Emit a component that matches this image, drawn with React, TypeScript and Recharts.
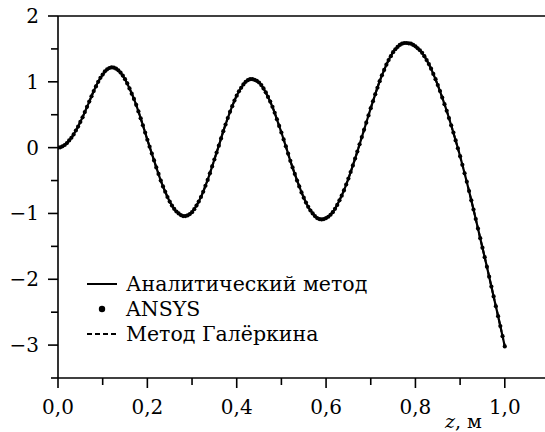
import React from 'react';
import { LineChart, Line, XAxis, YAxis, ReferenceLine } from 'recharts';

// Analytic / Galerkin sampling grid along the beam, m
const zGrid = [
  0.00, 0.01, 0.02, 0.03, 0.04, 0.05, 0.06, 0.07, 0.08, 0.09,
  0.10, 0.11, 0.12, 0.13, 0.14, 0.15, 0.16, 0.17, 0.18, 0.19,
  0.20, 0.21, 0.22, 0.23, 0.24, 0.25, 0.26, 0.27, 0.28, 0.29,
  0.30, 0.31, 0.32, 0.33, 0.34, 0.35, 0.36, 0.37, 0.38, 0.39,
  0.40, 0.41, 0.42, 0.43, 0.44, 0.45, 0.46, 0.47, 0.48, 0.49,
  0.50, 0.51, 0.52, 0.53, 0.54, 0.55, 0.56, 0.57, 0.58, 0.59,
  0.60, 0.61, 0.62, 0.63, 0.64, 0.65, 0.66, 0.67, 0.68, 0.69,
  0.70, 0.71, 0.72, 0.73, 0.74, 0.75, 0.76, 0.77, 0.78, 0.79,
  0.80, 0.81, 0.82, 0.83, 0.84, 0.85, 0.86, 0.87, 0.88, 0.89,
  0.90, 0.91, 0.92, 0.93, 0.94, 0.95, 0.96, 0.97, 0.98, 0.99,
  1.00,
];

// Аналитический метод
const analytic = [
  0.00, 0.02, 0.07, 0.15, 0.26, 0.39, 0.54, 0.70, 0.86, 1.00,
  1.11, 1.19, 1.22, 1.20, 1.14, 1.04, 0.90, 0.74, 0.55, 0.34,
  0.12, -0.09, -0.30, -0.50, -0.67, -0.82, -0.93, -1.00, -1.04, -1.03,
  -0.98, -0.88, -0.75, -0.58, -0.39, -0.18, 0.03, 0.25, 0.45, 0.63,
  0.79, 0.91, 1.00, 1.04, 1.03, 0.99, 0.90, 0.77, 0.62, 0.43,
  0.23, 0.02, -0.20, -0.40, -0.59, -0.76, -0.90, -1.00, -1.07, -1.09,
  -1.07, -1.02, -0.93, -0.80, -0.65, -0.47, -0.27, -0.06, 0.16, 0.38,
  0.60, 0.81, 1.01, 1.18, 1.33, 1.45, 1.53, 1.58, 1.59, 1.58,
  1.54, 1.48, 1.39, 1.27, 1.12, 0.95, 0.76, 0.56, 0.34, 0.11,
  -0.13, -0.39, -0.66, -0.94, -1.23, -1.52, -1.81, -2.11, -2.41, -2.71,
  -3.02,
];

// Метод Галёркина (coincides with the analytic curve at this scale)
const galerkin = [
  0.00, 0.02, 0.07, 0.15, 0.26, 0.39, 0.54, 0.70, 0.86, 1.00,
  1.11, 1.19, 1.22, 1.20, 1.14, 1.04, 0.90, 0.74, 0.55, 0.34,
  0.12, -0.09, -0.30, -0.50, -0.67, -0.82, -0.93, -1.00, -1.04, -1.03,
  -0.98, -0.88, -0.75, -0.58, -0.39, -0.18, 0.03, 0.25, 0.45, 0.63,
  0.79, 0.91, 1.00, 1.04, 1.03, 0.99, 0.90, 0.77, 0.62, 0.43,
  0.23, 0.02, -0.20, -0.40, -0.59, -0.76, -0.90, -1.00, -1.07, -1.09,
  -1.07, -1.02, -0.93, -0.80, -0.65, -0.47, -0.27, -0.06, 0.16, 0.38,
  0.60, 0.81, 1.01, 1.18, 1.33, 1.45, 1.53, 1.58, 1.59, 1.58,
  1.54, 1.48, 1.39, 1.27, 1.12, 0.95, 0.76, 0.56, 0.34, 0.11,
  -0.13, -0.39, -0.66, -0.94, -1.23, -1.52, -1.81, -2.11, -2.41, -2.71,
  -3.02,
];

// ANSYS nodal values, one node every 0.005 m
const ansys = [
  0.00, 0.005, 0.02, 0.04, 0.07, 0.11, 0.15, 0.20, 0.26, 0.32,
  0.39, 0.46, 0.54, 0.62, 0.70, 0.78, 0.86, 0.93, 1.00, 1.06,
  1.11, 1.16, 1.19, 1.21, 1.22, 1.215, 1.20, 1.175, 1.14, 1.095,
  1.04, 0.975, 0.90, 0.82, 0.74, 0.65, 0.55, 0.445, 0.34, 0.23,
  0.12, 0.015, -0.09, -0.195, -0.30, -0.40, -0.50, -0.59, -0.67, -0.75,
  -0.82, -0.88, -0.93, -0.97, -1.00, -1.025, -1.04, -1.04, -1.03, -1.01,
  -0.98, -0.935, -0.88, -0.82, -0.75, -0.67, -0.58, -0.49, -0.39, -0.285,
  -0.18, -0.075, 0.03, 0.14, 0.25, 0.35, 0.45, 0.545, 0.63, 0.715,
  0.79, 0.855, 0.91, 0.96, 1.00, 1.025, 1.04, 1.04, 1.03, 1.015,
  0.99, 0.95, 0.90, 0.84, 0.77, 0.70, 0.62, 0.53, 0.43, 0.33,
  0.23, 0.125, 0.02, -0.09, -0.20, -0.30, -0.40, -0.50, -0.59, -0.68,
  -0.76, -0.835, -0.90, -0.955, -1.00, -1.04, -1.07, -1.085, -1.09, -1.085,
  -1.07, -1.05, -1.02, -0.98, -0.93, -0.87, -0.80, -0.73, -0.65, -0.56,
  -0.47, -0.37, -0.27, -0.165, -0.06, 0.05, 0.16, 0.27, 0.38, 0.49,
  0.60, 0.705, 0.81, 0.91, 1.01, 1.10, 1.18, 1.26, 1.33, 1.39,
  1.45, 1.495, 1.53, 1.56, 1.58, 1.59, 1.59, 1.585, 1.58, 1.56,
  1.54, 1.51, 1.48, 1.44, 1.39, 1.33, 1.27, 1.20, 1.12, 1.04,
  0.95, 0.86, 0.76, 0.66, 0.56, 0.45, 0.34, 0.23, 0.11, -0.01,
  -0.13, -0.26, -0.39, -0.52, -0.66, -0.80, -0.94, -1.085, -1.23, -1.375,
  -1.52, -1.665, -1.81, -1.96, -2.11, -2.26, -2.41, -2.56, -2.71, -2.865,
  -3.02,
];

const xTicks = [0, 0.1, 0.2, 0.3, 0.4, 0.5, 0.6, 0.7, 0.8, 0.9, 1.0];
const yTicks = [-3.5, -3, -2.5, -2, -1.5, -1, -0.5, 0, 0.5, 1, 1.5, 2];

const serif = { fontFamily: "'DejaVu Serif', serif" };

const lineData = zGrid.map((z, i) => ({ z, analytic: analytic[i], galerkin: galerkin[i] }));
const ansysData = ansys.map((v, i) => ({ z: i * 0.005, ansys: v }));

const XTick = ({ x, y, payload }: any) => {
  const v = payload.value;
  const major = Math.round(v * 10) % 2 === 0;
  return (
    <g>
      <line x1={x} x2={x} y1={y} y2={y + (major ? 10 : 7)} stroke="#000" strokeWidth={1.6} />
      {major && (
        <text x={x} y={y + 36} textAnchor="middle" style={serif} fontSize={20} fill="#000">
          {v.toFixed(1).replace('.', ',')}
        </text>
      )}
    </g>
  );
};

const YTick = ({ x, y, payload }: any) => {
  const v = payload.value;
  const major = Number.isInteger(v);
  return (
    <g>
      <line x1={x - (major ? 10 : 7)} x2={x} y1={y} y2={y} stroke="#000" strokeWidth={1.6} />
      {major && (
        <text x={x - 19} y={y + 7} textAnchor="end" style={serif} fontSize={20} fill="#000">
          {v < 0 ? '\u2212' + Math.abs(v) : String(v)}
        </text>
      )}
    </g>
  );
};

const AxisTitle = () => (
  <text x={445} y={428} style={serif} fontSize={19} fill="#000">
    <tspan fontStyle="italic">z</tspan>, м
  </text>
);

const LegendBox = () => (
  <svg width={300} height={80} style={{ position: 'absolute', left: 83, top: 269 }}>
    <line x1={4} x2={34} y1={15} y2={15} stroke="#000" strokeWidth={2} />
    <circle cx={19} cy={40} r={3.2} fill="#000" />
    <line x1={4} x2={34} y1={65} y2={65} stroke="#000" strokeWidth={2} strokeDasharray="5 3" />
    <text x={43} y={22} style={serif} fontSize={20.5} fill="#000">Аналитический метод</text>
    <text x={43} y={47} style={serif} fontSize={20.5} fill="#000">ANSYS</text>
    <text x={43} y={72} style={serif} fontSize={20.5} fill="#000">Метод Галёркина</text>
  </svg>
);

export default function App() {
  return (
    <div style={{ position: 'absolute', left: 0, top: 0, width: 545, height: 432, background: '#fff' }}>
      <LineChart width={545} height={432} data={lineData} margin={{ top: 16, right: 0, bottom: 0, left: 0 }}>
        <XAxis
          dataKey="z"
          type="number"
          domain={[0, 1.09]}
          ticks={xTicks}
          allowDataOverflow
          height={54}
          tickSize={0}
          tickMargin={0}
          tick={<XTick />}
          tickLine={false}
          axisLine={{ stroke: '#000', strokeWidth: 1.6 }}
          interval={0}
          label={<AxisTitle />}
        />
        <YAxis
          type="number"
          domain={[-3.5, 2]}
          ticks={yTicks}
          allowDataOverflow
          width={58}
          tickSize={0}
          tickMargin={0}
          tick={<YTick />}
          tickLine={false}
          axisLine={{ stroke: '#000', strokeWidth: 1.6 }}
          interval={0}
        />
        <ReferenceLine y={2} stroke="#000" strokeWidth={1.6} />
        <Line
          dataKey="galerkin"
          type="monotone"
          stroke="#000"
          strokeWidth={2}
          strokeDasharray="5 3"
          dot={false}
          isAnimationActive={false}
        />
        <Line
          dataKey="analytic"
          type="monotone"
          stroke="#000"
          strokeWidth={2.2}
          dot={false}
          isAnimationActive={false}
        />
        <Line
          data={ansysData}
          dataKey="ansys"
          type="monotone"
          stroke="none"
          dot={{ r: 2.1, fill: '#000', stroke: 'none' }}
          isAnimationActive={false}
        />
      </LineChart>
      <LegendBox />
    </div>
  );
}
